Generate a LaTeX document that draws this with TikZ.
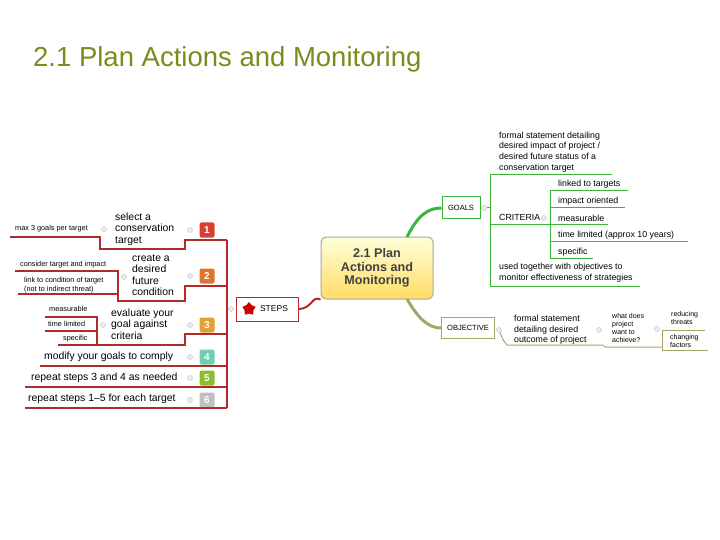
\documentclass[tikz,border=0pt]{standalone}
\usepackage{fontspec}
\setmainfont{Liberation Sans}
\usetikzlibrary{shapes.geometric}
\definecolor{stepred}{HTML}{B22A2A}
\definecolor{gr}{HTML}{3DB53D}
\definecolor{ol}{HTML}{A8A468}
\definecolor{titlec}{HTML}{7D8A1C}
\tikzset{
 badge/.style={rounded corners=2pt,minimum size=15pt,inner sep=0pt,text=white,font=\bfseries\fontsize{10}{10}\selectfont},
 stxt/.style={font=\fontsize{10.4}{11.5}\selectfont,align=left,anchor=west,inner sep=0pt},
 small/.style={font=\fontsize{7.3}{8.5}\selectfont,align=left,anchor=west,inner sep=0pt},
 med/.style={font=\fontsize{8.8}{10.6}\selectfont,align=left,anchor=west,inner sep=0pt},
 tiny/.style={font=\fontsize{7}{8}\selectfont,align=left,anchor=west,inner sep=0pt},
 rl/.style={stepred,line width=1.2pt},
 gl/.style={gr,line width=1pt},
 ol1/.style={ol,line width=1pt},
 knob/.style={circle,draw=gray!50,fill=gray!15,inner sep=0pt,minimum size=5pt},
}
\begin{document}
\begin{tikzpicture}[x=1pt,y=-1pt]
\useasboundingbox (0,0) rectangle (720,540);
\node[anchor=west,text=titlec,font=\fontsize{27.5}{28}\selectfont,inner sep=0pt] (title) at (33,59) {2.1 Plan Actions and Monitoring};
% central
\node[draw=gray!70,line width=1pt,rounded corners=5pt,top color=yellow!15,bottom color=yellow!55!orange!60,minimum width=112pt,minimum height=62pt,align=center,text=black!75,font=\bfseries\fontsize{12.6}{13.5}\selectfont] (c) at (377,268) {2.1 Plan\\Actions and\\Monitoring};
% STEPS
\node[draw=stepred,line width=1pt,minimum width=62pt,minimum height=24pt,font=\fontsize{8.5}{8.5}\selectfont] (steps) at (267,309) {\hspace*{14pt}STEPS};
\node[star,star points=5,fill=red!80!black,minimum size=14pt,inner sep=0pt] (st) at (249,309) {};
\draw[stepred,line width=2pt] (steps.east) .. controls (312,309) and (312,295) .. (c.south west);
\node[knob] (k0) at (231,309) {};
% steps spine
\coordinate (s1) at (227,240); \coordinate (s6) at (227,408);
\draw[rl] (s1) -- (s6);
\draw[rl] (k0) -- (227,309);
% badges
\definecolor{c1}{HTML}{D8402B}\definecolor{c2}{HTML}{E0742C}\definecolor{c3}{HTML}{E4A030}
\definecolor{c4}{HTML}{6FCFB0}\definecolor{c5}{HTML}{8CBF2A}\definecolor{c6}{HTML}{C0C0C0}
\foreach \n/\y in {1/230,2/276,3/325,4/357,5/378,6/400}{
 \node[badge,fill=c\n] (b\n) at (207,\y) {\n};
 \node[knob] (kb\n) at (190,\y) {};
}
% step 1
\draw[rl] (s1) -- (185,240) -- (185,249) -- (100,249) -- (100,237) -- (10,237);
\node[stxt] (t1) at (115,229) {select a\\conservation\\target};
\node[knob] (kk1) at (104,229) {};
\node[small] (m1) at (15,229) {max 3 goals per target};
% step 2
\draw[rl] (227,286) -- (185,286) -- (185,301) -- (118,301) -- (118,271) -- (15,271);
\draw[rl] (118,294) -- (18,294);
\node[stxt] (t2) at (132,275) {create a\\desired\\future\\condition};
\node[knob] (kk2) at (124,277) {};
\node[small] (m2a) at (20,265) {consider target and impact};
\node[small] (m2b) at (24,285) {link to condition of target\\(not to indirect threat)};
% step 3
\draw[rl] (227,334) -- (185,334) -- (185,345) -- (97,345) -- (97,317) -- (45,317);
\draw[rl] (97,331) -- (45,331);
\draw[rl] (97,345) -- (58,345);
\node[stxt] (t3) at (111,324) {evaluate your\\goal against\\criteria};
\node[knob] (kk3) at (103,325) {};
\node[small] (m3a) at (49,309) {measurable};
\node[small] (m3b) at (48,324) {time limited};
\node[small] (m3c) at (63,339) {specific};
% steps 4-6
\draw[rl] (227,366) -- (40,366);
\draw[rl] (227,387) -- (25,387);
\draw[rl] (227,408) -- (25,408);
\node[stxt] (t4) at (44,357) {modify your goals to comply};
\node[stxt] (t5) at (31,378) {repeat steps 3 and 4 as needed};
\node[stxt] (t6) at (28,399) {repeat steps 1--5 for each target};
% GOALS
\node[draw=gr,line width=1pt,minimum width=38pt,minimum height=22pt,font=\fontsize{7.5}{7.5}\selectfont] (goals) at (461,208) {GOALS};
\draw[gr,line width=3pt] (407,237) .. controls (418,215) and (428,208) .. (goals.west);
\node[knob] (kg) at (484,208) {};
\draw[gl] (490,175) -- (490,286);
\draw[gl] (kg) -- (490,208);
\draw[gl] (490,175) -- (612,175);
\node[med] (g1) at (499,152) {formal statement detailing\\desired impact of project /\\desired future status of a\\conservation target};
\draw[gl] (490,225) -- (550,225);
\node[med] (crit) at (499,217) {CRITERIA};
\node[knob] (kc) at (544,218) {};
\draw[gl] (550,191) -- (550,258);
\draw[gl] (550,191) -- (628,191);
\draw[gl] (550,208) -- (625,208);
\draw[gl] (550,225) -- (608,225);
\draw[gl] (550,241) -- (688,241);
\draw[gl] (550,258) -- (593,258);
\node[med] (cc1) at (558,184) {linked to targets};
\node[med] (cc2) at (558,201) {impact oriented};
\node[med] (cc3) at (558,218) {measurable};
\node[med] (cc4) at (558,235) {time limited (approx 10 years)};
\node[med] (cc5) at (558,252) {specific};
\draw[gl] (490,286) -- (640,286);
\node[med] (g3) at (499,273) {used together with objectives to\\monitor effectiveness of strategies};
% OBJECTIVE
\node[draw=ol,line width=1pt,minimum width=53pt,minimum height=21pt,font=\fontsize{7.5}{7.5}\selectfont] (obj) at (468,328) {OBJECTIVE};
\draw[ol,line width=3pt] (407,299) .. controls (418,318) and (428,328) .. (obj.west);
\node[knob] (ko) at (499,330) {};
\draw[ol1] (ko) .. controls (503,340) .. (507,345) -- (603,345) -- (605,347) -- (662,347);
\node[med] (o1) at (514,330) {formal statement\\detailing desired\\outcome of project};
\node[knob] (ko2) at (599,330) {};
\node[tiny] (o2) at (612,328) {what does\\project\\want to\\achieve?};
\node[knob] (ko3) at (657,329) {};
\draw[ol1] (662,330) -- (705,330);
\draw[ol1] (662,330) -- (662,350) -- (708,350);
\node[tiny] (o3) at (671,318) {reducing\\threats};
\node[tiny] (o4) at (670,341) {changing\\factors};
\end{tikzpicture}
\end{document}
